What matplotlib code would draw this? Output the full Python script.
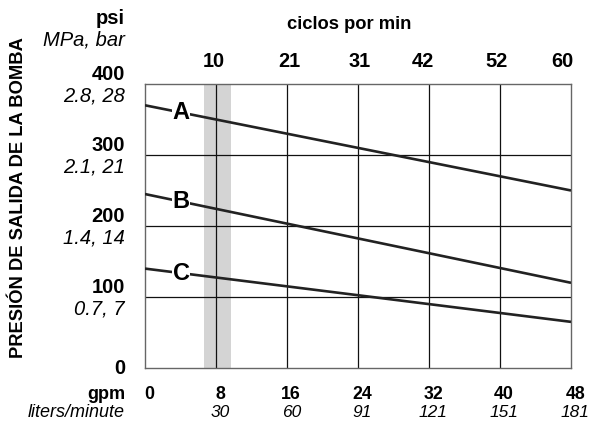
import matplotlib.pyplot as plt

plt.rcParams['font.family'] = ['Liberation Sans', 'DejaVu Sans']

# Data
gpm_ends = [0, 48]
curve_a = [370, 250]
curve_b = [245, 120]
curve_c = [140, 65]
curve_names = ['A', 'B', 'C']

gpm_ticks = [0, 8, 16, 24, 32, 40, 48]
lpm_labels = ['', '30', '60', '91', '121', '151', '181']
psi_ticks = [0, 100, 200, 300, 400]
mpa_labels = ['', '0.7, 7', '1.4, 14', '2.1, 21', '2.8, 28']
cpm_labels = ['10', '21', '31', '42', '52', '60']
cpm_pos = [7.7, 16.3, 24.2, 31.3, 39.6, 47.0]

band = (6.65, 9.65)
label_gpm = 4.06

fig = plt.figure(figsize=(5.91, 4.25), dpi=100)
ax = fig.add_axes([0.2453, 0.1341, 0.7209, 0.6683])
ax.set_xlim(0, 48)
ax.set_ylim(0, 400)

# grey band and grid
ax.axvspan(band[0], band[1], color='#d4d4d4', lw=0, zorder=0)
for x in gpm_ticks[1:-1]:
    ax.axvline(x, color='#111111', lw=0.9, zorder=1)
for y in psi_ticks[1:-1]:
    ax.axhline(y, color='#111111', lw=0.9, zorder=1)

for s in ax.spines.values():
    s.set_color('#666666')
    s.set_linewidth(1.0)
ax.set_xticks([])
ax.set_yticks([])

# curves
for vals, name in zip([curve_a, curve_b, curve_c], curve_names):
    ax.plot(gpm_ends, vals, color='#222222', lw=1.9, zorder=3, solid_capstyle='butt')
    yv = vals[0] + (vals[1] - vals[0]) * label_gpm / 48
    ax.text(label_gpm, yv, name, fontsize=17, fontweight='bold', ha='center', va='center',
            zorder=4, bbox=dict(boxstyle='square,pad=0.02', fc='white', ec='none'))

# y labels
yt = ax.get_yaxis_transform()
for v, sub in zip(psi_ticks, mpa_labels):
    if v == 0:
        ax.annotate(str(v), (0, v), xycoords=yt, xytext=(-14.4, 0), textcoords='offset points',
                    ha='right', va='center', fontsize=14.5, fontweight='bold')
        continue
    ax.annotate(str(v), (0, v), xycoords=yt, xytext=(-14.4, 6.5), textcoords='offset points',
                ha='right', va='center', fontsize=14.5, fontweight='bold')
    ax.annotate(sub, (0, v), xycoords=yt, xytext=(-14.4, -8.6), textcoords='offset points',
                ha='right', va='center', fontsize=14.5, style='italic')
ax.annotate('psi', (0, 1), xycoords='axes fraction', xytext=(-14.4, 46.8), textcoords='offset points',
            ha='right', va='center', fontsize=14.5, fontweight='bold')
ax.annotate('MPa, bar', (0, 1), xycoords='axes fraction', xytext=(-14.4, 31.7), textcoords='offset points',
            ha='right', va='center', fontsize=14.5, style='italic')

# bottom labels
xt = ax.get_xaxis_transform()
for v, sub in zip(gpm_ticks, lpm_labels):
    ax.annotate(str(v), (v, 0), xycoords=xt, xytext=(3, -19.4), textcoords='offset points',
                ha='center', va='center', fontsize=12.8, fontweight='bold')
    if sub:
        ax.annotate(sub, (v, 0), xycoords=xt, xytext=(3, -32), textcoords='offset points',
                    ha='center', va='center', fontsize=12.5, style='italic')
ax.annotate('gpm', (0, 0), xycoords='axes fraction', xytext=(-14.4, -19.4), textcoords='offset points',
            ha='right', va='center', fontsize=13, fontweight='bold')
ax.annotate('liters/minute', (0, 0), xycoords='axes fraction', xytext=(-14.4, -32), textcoords='offset points',
            ha='right', va='center', fontsize=13, style='italic')

# top labels
for p, lab in zip(cpm_pos, cpm_labels):
    ax.annotate(lab, (p, 1), xycoords=xt, xytext=(0, 16), textcoords='offset points',
                ha='center', va='center', fontsize=14.4, fontweight='bold')
ax.annotate('ciclos por min', (23.0, 1), xycoords=xt, xytext=(0, 42.5), textcoords='offset points',
            ha='center', va='center', fontsize=13.2, fontweight='bold')

fig.text(19 / 591, 1 - 198 / 425, 'PRESIÓN DE SALIDA DE LA BOMBA', rotation=90,
         ha='center', va='center', fontsize=13.2, fontweight='bold')

fig.savefig('out.png', dpi=100)
